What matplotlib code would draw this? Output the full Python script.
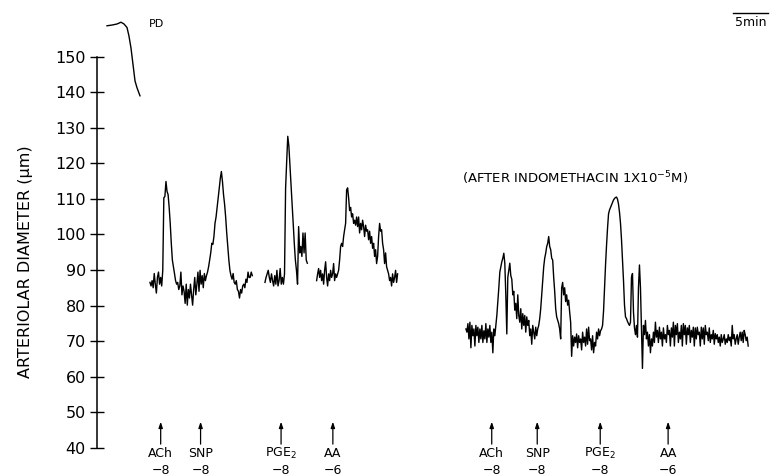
import matplotlib.pyplot as plt
import numpy as np

plt.rcParams["font.family"] = ["DejaVu Sans"]

# trace: time in min, arteriolar diameter in um
pd_time = [1.43, 2.14, 2.86, 3.43, 3.86, 4.29, 4.57, 4.86, 5.14, 5.43, 5.71, 6.14]
pd_diam = [158.7, 158.9, 159.2, 159.7, 159.2, 158.2, 155.8, 152.4, 147.9, 143.2, 141.3, 139.0]

# control runs, each one sampled evenly between its start and end time
ach_snp_span = (7.57, 22.19)
ach_snp_diam = [
    86.5, 85.5, 87.0, 85.0, 89.0, 86.0, 83.5, 87.9, 89.4, 86.0,
    87.9, 85.5, 89.9, 110.3, 110.7, 114.9, 112.1, 111.2, 107.6, 103.1,
    97.5, 92.8, 90.9, 89.0, 87.0, 86.0, 86.5, 84.5, 85.5, 89.4,
    83.0, 85.5, 84.0, 80.6, 86.0, 80.1, 84.5, 82.1, 86.0, 83.0,
    80.1, 84.5, 87.9, 83.0, 86.0, 89.4, 84.0, 89.9, 86.0, 88.4,
    85.0, 89.0, 87.0, 88.4, 89.4, 90.9, 92.8, 94.8, 97.5, 97.2,
    99.4, 103.1, 104.9, 107.6, 110.3, 113.0, 115.8, 117.7, 114.9, 111.2,
    108.5, 104.9, 100.4, 96.6, 92.8, 89.9, 88.4, 87.4, 89.0, 86.5,
    86.0, 87.0, 84.5, 84.0, 82.1, 84.5, 83.5, 85.5, 86.0, 85.0,
    87.4, 86.5, 89.4, 87.9, 87.9, 89.4, 88.4,
]
pge2_span = (24.0, 30.05)
pge2_diam = [
    86.5, 87.9, 88.9, 89.9, 87.9, 86.5, 88.9, 87.0, 85.5, 88.4,
    86.0, 89.9, 85.5, 87.0, 90.4, 86.0, 87.9, 86.0, 88.9, 113.0,
    120.5, 127.6, 124.9, 119.5, 114.0, 108.5, 103.1, 97.5, 92.8, 89.9,
    86.0, 102.2, 94.8, 96.6, 93.8, 100.4, 94.8, 100.4, 92.8, 91.9,
]
aa_span = (31.38, 42.95)
aa_diam = [
    87.0, 88.9, 90.4, 87.9, 89.9, 87.0, 88.9, 86.0, 89.9, 92.3,
    87.9, 85.5, 88.9, 87.0, 89.9, 87.9, 88.9, 91.8, 87.0, 88.9,
    87.9, 88.9, 89.9, 92.8, 96.6, 97.5, 96.6, 99.4, 101.3, 103.1,
    112.5, 113.1, 110.3, 106.7, 107.6, 104.9, 105.8, 103.1, 104.0, 102.6,
    104.9, 102.2, 104.9, 100.4, 103.1, 101.3, 104.0, 102.2, 99.4, 102.6,
    100.9, 101.3, 98.5, 100.9, 97.5, 99.4, 96.1, 97.5, 93.8, 95.7,
    91.8, 93.8, 99.4, 103.1, 100.9, 101.3, 97.5, 95.7, 91.8, 94.8,
    90.9, 89.9, 88.9, 87.0, 87.9, 85.5, 88.9, 86.5, 87.9, 89.9,
    86.5, 88.9,
]

# after indomethacin 1x10-5 M, one continuous run
indo_span = (52.71, 93.04)
indo_diam = [
    73.4, 72.5, 74.9, 70.6, 75.3, 68.1, 74.4, 71.5, 73.4, 68.6,
    74.4, 71.5, 73.9, 69.6, 73.4, 70.6, 74.4, 69.6, 72.9, 70.6,
    74.9, 69.6, 73.4, 71.1, 74.4, 69.6, 72.5, 66.7, 73.4, 71.5,
    74.4, 77.2, 81.1, 85.0, 89.4, 90.9, 92.3, 93.3, 94.7, 91.9,
    83.0, 72.0, 87.9, 89.9, 91.9, 88.4, 87.4, 83.0, 84.0, 78.7,
    80.6, 76.3, 83.0, 77.2, 75.3, 79.1, 73.4, 77.7, 74.4, 77.2,
    72.5, 76.8, 74.4, 75.8, 71.5, 73.4, 69.1, 74.4, 72.5, 70.6,
    73.9, 71.5, 73.4, 74.4, 76.3, 79.1, 83.0, 87.0, 90.9, 93.3,
    94.7, 96.6, 97.5, 99.4, 96.6, 95.7, 93.3, 92.8, 87.9, 84.0,
    79.1, 76.8, 75.8, 74.9, 73.4, 70.6, 85.0, 86.5, 83.0, 85.0,
    81.1, 83.0, 80.1, 81.5, 78.2, 75.3, 65.7, 71.5, 68.6, 71.1,
    69.6, 72.0, 68.1, 71.5, 69.6, 70.6, 67.5, 72.5, 69.6, 71.1,
    68.6, 73.4, 69.1, 73.9, 70.1, 70.6, 67.5, 71.5, 66.7, 69.6,
    68.6, 72.5, 70.6, 73.4, 71.5, 72.9, 73.4,
    74.4, 78.5, 85.3, 91.5, 97.0, 101.8, 105.8, 106.9, 107.6, 108.3,
    109.0, 109.7, 110.1, 110.4, 110.5, 109.9, 108.5, 106.2, 103.1, 98.5,
    92.8, 87.0, 80.1, 76.8, 76.3, 75.5, 74.9, 74.4,
    75.3, 87.9, 89.0, 78.2, 73.7, 71.8, 74.4, 71.1, 85.0, 91.4,
    85.0, 73.7, 62.3, 74.4, 71.8, 75.8, 70.6, 72.5, 68.6, 71.8,
    66.7, 70.6, 68.6, 72.5, 69.6, 75.3, 71.1, 73.0, 69.6, 73.9,
    70.6, 72.5, 68.6, 73.7, 70.6, 71.8, 69.6, 74.4, 71.8, 73.0,
    68.6, 73.7, 71.1, 75.3, 68.6, 74.4, 71.8, 74.9, 69.6, 72.5,
    70.6, 74.4, 68.6, 74.9, 71.8, 74.4, 69.1, 73.7, 71.8, 74.4,
    69.6, 73.0, 71.1, 73.9, 68.6, 73.7, 70.6, 73.9, 71.8, 72.5,
    68.6, 73.9, 70.6, 73.7, 69.1, 74.4, 71.8, 72.5, 70.1, 73.7,
    69.6, 71.8, 70.6, 73.0, 69.1, 72.1, 70.6, 71.8, 69.6, 71.1,
    68.6, 71.8, 69.6, 70.6, 71.8, 69.1, 70.6, 69.6, 71.8, 70.1,
    71.1, 68.6, 74.4, 70.6, 71.8, 69.1, 70.6, 71.8, 69.1, 71.1,
    72.5, 70.1, 72.5, 69.6, 73.0, 71.8, 70.1, 71.1, 68.6,
]

# injections (agent, log dose) and when they were given
agents = ["ACh", "SNP", "PGE$_2$", "AA"]
doses = ["\u22128", "\u22128", "\u22128", "\u22126"]
inject_ctrl = [9.1, 14.8, 26.3, 33.7]
inject_indo = [56.4, 62.9, 71.9, 81.6]

yticks = np.arange(40, 151, 10)
scale_min = 5

fig = plt.figure(figsize=(7.71, 4.76), dpi=100)
ax = fig.add_axes([0.1258, 0.0595, 0.8742, 0.8214])

runs = [(pd_time, pd_diam)]
for span, diam in [(ach_snp_span, ach_snp_diam), (pge2_span, pge2_diam),
                   (aa_span, aa_diam), (indo_span, indo_diam)]:
    runs.append((np.linspace(span[0], span[1], len(diam)), diam))
for t, d in runs:
    ax.plot(t, d, color="black", lw=1.0, clip_on=False)

ax.set_xlim(0, 96.3)
ax.set_ylim(40, 150)
ax.set_yticks(yticks)
ax.set_xticks([])
for side in ["top", "right", "bottom"]:
    ax.spines[side].set_visible(False)
ax.spines["left"].set_bounds(40, 150)
ax.spines["left"].set_linewidth(1.1)
ax.tick_params(axis="y", direction="inout", length=10, width=1.0, pad=3, labelsize=11.5)
ax.set_ylabel("ARTERIOLAR DIAMETER (\u03bcm)", fontsize=11.5)
ax.yaxis.set_label_coords(-0.095, 0.475)

# arrows and agent names under the traces
for times in (inject_ctrl, inject_indo):
    for t, agent, dose in zip(times, agents, doses):
        ax.annotate("", xy=(t, 47.3), xytext=(t, 41.0),
                    arrowprops=dict(arrowstyle="-|>,head_length=0.35,head_width=0.12",
                                    color="black", lw=0.9, shrinkA=0, shrinkB=0))
        ax.annotate(agent, xy=(t, 40), xytext=(0, -4), textcoords="offset points",
                    ha="center", va="center", fontsize=9, annotation_clip=False)
        ax.annotate(dose, xy=(t, 40), xytext=(0, -16.5), textcoords="offset points",
                    ha="center", va="center", fontsize=9, annotation_clip=False)

trans = ax.get_xaxis_transform()
ax.text(8.57, 1.084, "PD", transform=trans, fontsize=8, ha="center", va="center")
ax.plot([90.9, 90.9 + scale_min], [1.112, 1.112], transform=trans, color="black",
        lw=1.0, clip_on=False)
ax.text(90.9 + scale_min / 2, 1.087, f"{scale_min}min", transform=trans, fontsize=9,
        ha="center", va="center")
ax.text(68.3, 115.9, "(AFTER INDOMETHACIN 1X10$^{-5}$M)", fontsize=9.5,
        ha="center", va="center")

fig.savefig("out.png", dpi=100)
